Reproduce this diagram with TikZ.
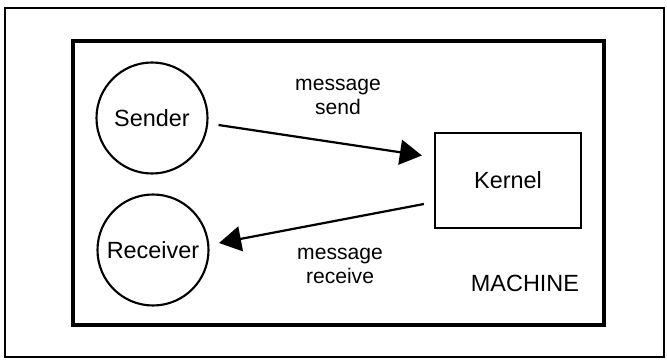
\documentclass[tikz,border=0pt]{standalone}
\usepackage{fontspec}
\setmainfont{Liberation Sans}
\usetikzlibrary{arrows.meta, calc}

\begin{document}
\begin{tikzpicture}[x=0.03cm, y=-0.03cm,
        proc/.style={circle, draw, line width=1.8pt, minimum size=3.33cm, inner sep=0pt, font=\fontsize{20}{24}\selectfont},
        kern/.style={rectangle, draw, line width=1.9pt, minimum width=4.38cm, minimum height=2.85cm, font=\fontsize{20}{24}\selectfont},
        msg/.style={align=center, font=\fontsize{18}{21}\selectfont},
        msgarrow/.style={line width=1.9pt, -{Triangle[length=0.66cm, width=0.75cm]}}]
        \useasboundingbox (0,0) rectangle (667,360);

        % Frames
        \draw[line width=1.1pt] (5,8) rectangle (664,357);
        \draw[line width=2.6pt] (73,41) rectangle (604,325);

        % Processes and kernel
        \node[proc] (sender) at (152,118) {Sender};
        \node[proc] (receiver) at (153,250) {Receiver};
        \node[kern] (kernel) at (508,180.5) {Kernel};
        \node[font=\fontsize{20}{24}\selectfont] (machine) at (525,283) {MACHINE};

        % Message arrows
        \draw[msgarrow] ($(sender.east)+(10,7)$) -- ($(kernel.west)+(-12,-25)$);
        \draw[msgarrow] ($(kernel.west)+(-10,23.5)$) -- ($(receiver.east)+(9.5,-7)$);

        % Arrow labels
        \node[msg] (sendlabel) at (338,97) {message\\send};
        \node[msg] (recvlabel) at (340,266) {message\\receive};
    \end{tikzpicture}
\end{document}
